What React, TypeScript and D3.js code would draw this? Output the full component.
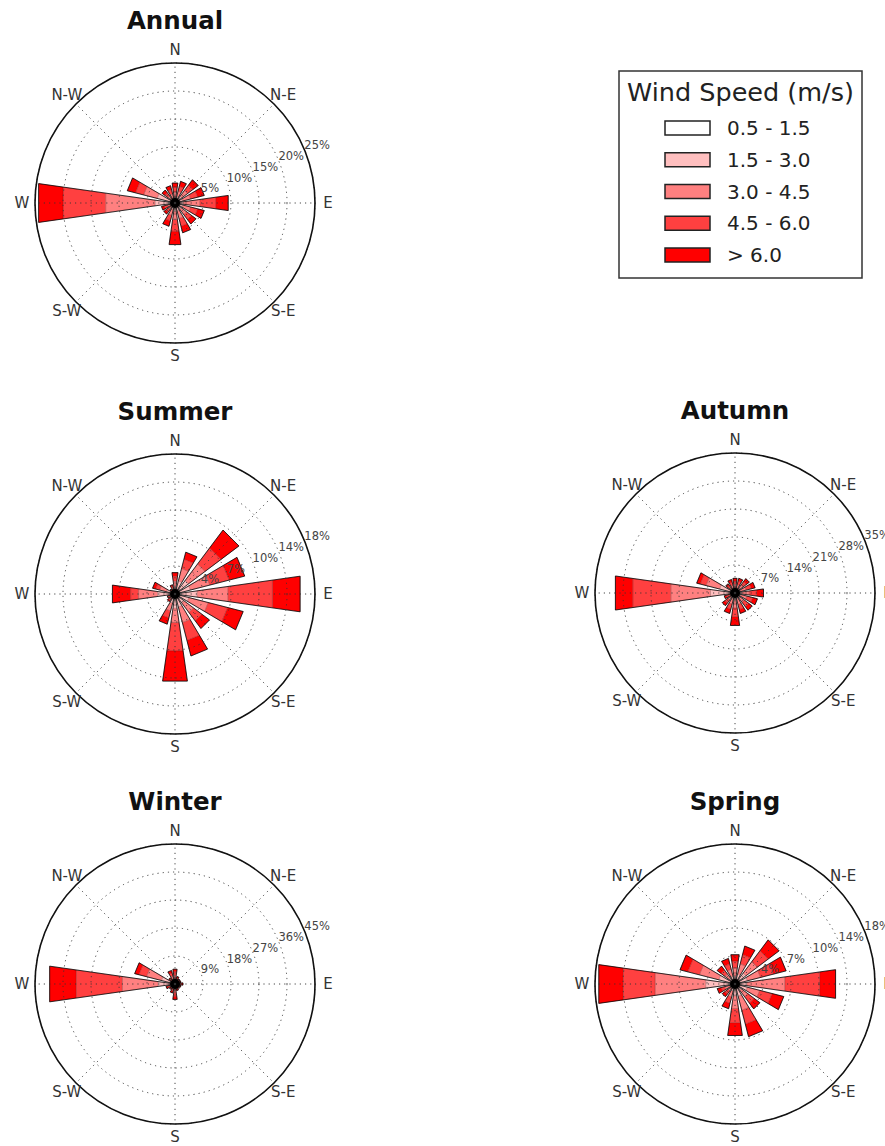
import React from 'react';
import * as d3 from 'd3';

// sectors, clockwise from north
const directions = ['N', 'NNE', 'NE', 'ENE', 'E', 'ESE', 'SE', 'SSE', 'S', 'SSW', 'SW', 'WSW', 'W', 'WNW', 'NW', 'NNW'];
const compassLabels = ['N', 'N-E', 'E', 'S-E', 'S', 'S-W', 'W', 'N-W'];
const speedBins = ['0.5 - 1.5', '1.5 - 3.0', '3.0 - 4.5', '4.5 - 6.0', '> 6.0'];
const binColors = ['#ffffff', '#ffbfbf', '#ff8080', '#ff4040', '#ff0000'];

// frequency (%) per direction, one value per speed bin
const annualFreq = [
  [0.4, 0.7, 0.9, 0.8, 0.8],
  [0.4, 0.8, 1.0, 0.9, 0.9],
  [0.5, 1.0, 1.3, 1.2, 1.2],
  [0.5, 1.0, 1.4, 1.3, 1.2],
  [0.5, 1.0, 3.0, 2.9, 2.2],
  [0.5, 1.0, 1.4, 1.3, 1.2],
  [0.5, 0.9, 1.2, 1.1, 1.0],
  [0.5, 1.0, 1.4, 1.4, 1.2],
  [0.5, 1.0, 1.5, 2.1, 2.4],
  [0.4, 0.8, 1.1, 1.0, 1.0],
  [0.3, 0.5, 0.6, 0.6, 0.5],
  [0.3, 0.5, 0.6, 0.6, 0.5],
  [1.2, 2.4, 8.9, 7.7, 4.4],
  [0.8, 2.5, 2.5, 1.5, 1.5],
  [0.3, 0.6, 0.7, 0.7, 0.6],
  [0.3, 0.6, 0.8, 0.8, 0.7],
];
const summerFreq = [
  [0.3, 0.6, 0.7, 0.6, 0.5],
  [0.5, 1.2, 1.6, 1.2, 0.9],
  [0.6, 1.5, 2.6, 2.5, 2.8],
  [0.5, 1.5, 2.5, 2.5, 2.0],
  [0.8, 2.0, 3.9, 5.6, 3.5],
  [0.5, 1.3, 2.5, 2.5, 2.0],
  [0.4, 1.0, 1.5, 1.3, 1.2],
  [0.5, 1.2, 2.0, 2.3, 2.0],
  [0.6, 1.2, 1.8, 3.6, 3.8],
  [0.4, 0.8, 1.0, 0.9, 0.8],
  [0.2, 0.3, 0.3, 0.2, 0.2],
  [0.2, 0.3, 0.2, 0.2, 0.1],
  [0.6, 1.6, 2.4, 1.0, 2.3],
  [0.3, 0.8, 0.9, 0.5, 0.4],
  [0.1, 0.2, 0.2, 0.2, 0.1],
  [0.2, 0.3, 0.3, 0.2, 0.2],
];
const autumnFreq = [
  [0.4, 0.8, 1.0, 0.8, 0.7],
  [0.4, 0.8, 1.0, 0.9, 0.7],
  [0.4, 0.9, 1.2, 1.1, 0.9],
  [0.5, 1.0, 1.4, 1.3, 1.0],
  [0.6, 1.2, 1.8, 1.8, 1.8],
  [0.5, 1.1, 1.5, 1.5, 1.2],
  [0.5, 1.0, 1.4, 1.4, 1.1],
  [0.5, 1.0, 1.5, 1.3, 1.0],
  [0.6, 1.2, 2.0, 2.2, 2.2],
  [0.5, 1.0, 1.4, 1.3, 1.1],
  [0.4, 0.8, 1.0, 1.0, 0.8],
  [0.3, 0.6, 0.7, 0.7, 0.5],
  [1.0, 5.2, 10.0, 9.6, 4.4],
  [1.0, 3.0, 3.5, 1.5, 0.9],
  [0.3, 0.6, 0.8, 0.7, 0.5],
  [0.4, 0.7, 0.9, 0.8, 0.7],
];
const winterFreq = [
  [0.4, 1.0, 1.4, 1.2, 0.8],
  [0.3, 0.6, 0.7, 0.5, 0.4],
  [0.2, 0.5, 0.6, 0.4, 0.3],
  [0.2, 0.5, 0.6, 0.4, 0.3],
  [0.3, 0.6, 0.7, 0.6, 0.4],
  [0.2, 0.5, 0.6, 0.4, 0.3],
  [0.2, 0.4, 0.5, 0.4, 0.3],
  [0.2, 0.5, 0.6, 0.5, 0.4],
  [0.4, 1.0, 1.4, 1.2, 1.0],
  [0.3, 0.7, 0.8, 0.7, 0.5],
  [0.2, 0.5, 0.6, 0.5, 0.4],
  [0.3, 0.7, 0.8, 0.7, 0.5],
  [1.0, 4.5, 11.6, 15.0, 8.6],
  [1.0, 3.5, 5.0, 2.5, 1.4],
  [0.2, 0.6, 0.7, 0.6, 0.4],
  [0.4, 1.0, 1.3, 1.0, 0.8],
];
const springFreq = [
  [0.3, 0.7, 1.0, 0.9, 0.8],
  [0.4, 0.9, 1.3, 1.2, 1.1],
  [0.5, 1.2, 1.8, 1.7, 1.7],
  [0.5, 1.1, 1.7, 1.7, 1.6],
  [0.6, 0.9, 4.8, 4.4, 2.0],
  [0.5, 1.1, 1.6, 1.6, 1.5],
  [0.3, 0.7, 1.0, 1.0, 0.9],
  [0.5, 1.1, 1.8, 1.8, 1.6],
  [0.5, 1.0, 1.6, 1.8, 1.6],
  [0.3, 0.6, 0.8, 0.8, 0.7],
  [0.2, 0.4, 0.5, 0.5, 0.4],
  [0.2, 0.5, 0.6, 0.5, 0.5],
  [0.8, 2.9, 6.4, 4.0, 3.1],
  [0.6, 1.5, 2.5, 1.5, 1.0],
  [0.3, 0.6, 0.7, 0.6, 0.6],
  [0.3, 0.7, 0.9, 0.7, 0.7],
];

// radial axis: max value and ring labels
const annualTicks = ['5%', '10%', '15%', '20%', '25%'];
const summerTicks = ['4%', '7%', '10%', '14%', '18%'];
const autumnTicks = ['7%', '14%', '21%', '28%', '35%'];
const winterTicks = ['9%', '18%', '27%', '36%', '45%'];
const springTicks = ['4%', '7%', '10%', '14%', '18%'];
const annualMax = 25;
const summerMax = 17.5;
const autumnMax = 35;
const winterMax = 45;
const springMax = 17.5;

const font = '"DejaVu Sans", sans-serif';
const R = 140;

const WindRose = ({ title, cx, cy, freq, rMax, ticks }) => {
  const r = d3.scaleLinear().domain([0, rMax]).range([0, R]);
  const step = 360 / directions.length;
  const opening = step * 0.72;
  const angle = d3.scaleLinear().domain([0, directions.length]).range([0, 360]);

  const stacked = d3.stack()
    .keys(d3.range(speedBins.length))
    .value((d, k) => d[k])(freq);
  const totals = freq.map((row) => d3.sum(row));

  const pt = (deg, rad) => {
    const a = (deg * Math.PI) / 180;
    return [cx + rad * Math.sin(a), cy - rad * Math.cos(a)];
  };

  // windrose draws each bin as a polar rectangle -> straight-edged quad
  const segPath = (i, y0, y1) => {
    const a = angle(i);
    const p = d3.path();
    const c1 = pt(a - opening / 2, r(y0));
    const c2 = pt(a + opening / 2, r(y0));
    const c3 = pt(a + opening / 2, r(y1));
    const c4 = pt(a - opening / 2, r(y1));
    p.moveTo(c1[0], c1[1]);
    p.lineTo(c2[0], c2[1]);
    p.lineTo(c3[0], c3[1]);
    p.lineTo(c4[0], c4[1]);
    p.closePath();
    return p.toString();
  };

  const ringValues = ticks.map((_, i) => (rMax * (i + 1)) / ticks.length);

  return (
    <g>
      {/* stacked bars */}
      {stacked.map((series, k) => (
        <g key={k}>
          {series.map((d, i) => (
            <path key={i} d={segPath(i, d[0], d[1])} fill={binColors[k]}
              stroke="#000" strokeWidth={0.5} strokeOpacity={0.3} />
          ))}
        </g>
      ))}
      {totals.map((t, i) => (
        <path key={'o' + i} d={segPath(i, 0, t)} fill="none" stroke="#000"
          strokeWidth={0.9} strokeOpacity={0.85} />
      ))}
      <circle cx={cx} cy={cy} r={5} fill="#000" />

      {/* grid */}
      {ringValues.map((v, i) => (
        <circle key={i} cx={cx} cy={cy} r={r(v)} fill="none" stroke="#333"
          strokeWidth={0.9} strokeDasharray="1.2 4" />
      ))}
      {compassLabels.map((_, i) => {
        const [x2, y2] = pt(i * 45, R);
        return <line key={i} x1={cx} y1={cy} x2={x2} y2={y2} stroke="#333"
          strokeWidth={0.9} strokeDasharray="1.2 4" />;
      })}
      <circle cx={cx} cy={cy} r={R} fill="none" stroke="#111" strokeWidth={1.6} />

      {/* ring labels */}
      {ticks.map((t, i) => {
        const [x, y] = pt(67.5, r(ringValues[i]));
        return <text key={t + i} x={x} y={y} fontSize={11.5} fill="#444" fontFamily={font}>{t}</text>;
      })}

      {/* compass labels */}
      {compassLabels.map((lab, i) => {
        const [x, y] = pt(i * 45, R + 13);
        return <text key={lab} x={x} y={y} fontSize={15} fill="#333" fontFamily={font}
          textAnchor="middle" dominantBaseline="central">{lab}</text>;
      })}

      <text x={cx} y={cy - 174} fontSize={24.5} fontWeight="bold" fontFamily={font}
        textAnchor="middle" fill="#111">{title}</text>
    </g>
  );
};

const Legend = ({ x, y }) => {
  const rowY = d3.scaleLinear().domain([0, speedBins.length - 1]).range([y + 57, y + 184]);
  return (
    <g>
      <rect x={x} y={y} width={243} height={207} fill="#fff" stroke="#333" strokeWidth={1.5} />
      <text x={x + 121.5} y={y + 30} fontSize={25.5} fontFamily={font} textAnchor="middle" fill="#222">
        Wind Speed (m/s)
      </text>
      {speedBins.map((b, i) => (
        <g key={b}>
          <rect x={x + 46} y={rowY(i) - 7} width={45} height={14} fill={binColors[i]}
            stroke="#222" strokeWidth={1.5} />
          <text x={x + 108} y={rowY(i) + 7} fontSize={20} fontFamily={font} fill="#222">{b}</text>
        </g>
      ))}
    </g>
  );
};

export default function App() {
  return (
    <svg width={885} height={1146} style={{ position: 'absolute', left: 0, top: 0, background: '#fff' }}>
      <WindRose title="Annual" cx={175} cy={203} freq={annualFreq} rMax={annualMax} ticks={annualTicks} />
      <WindRose title="Summer" cx={175} cy={594} freq={summerFreq} rMax={summerMax} ticks={summerTicks} />
      <WindRose title="Autumn" cx={735} cy={593} freq={autumnFreq} rMax={autumnMax} ticks={autumnTicks} />
      <WindRose title="Winter" cx={175} cy={984} freq={winterFreq} rMax={winterMax} ticks={winterTicks} />
      <WindRose title="Spring" cx={735} cy={984} freq={springFreq} rMax={springMax} ticks={springTicks} />
      <Legend x={619} y={71} />
    </svg>
  );
}
